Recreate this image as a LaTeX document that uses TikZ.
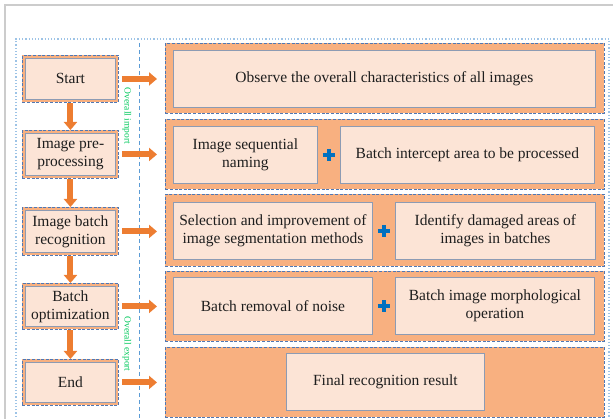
\documentclass[tikz,border=0pt]{standalone}
\usepackage{fontspec}
\setmainfont{Liberation Serif}
\usetikzlibrary{arrows.meta,calc}
\definecolor{band}{RGB}{248,176,128}
\definecolor{peach}{RGB}{252,228,214}
\definecolor{dblue}{RGB}{80,120,180}
\definecolor{iborder}{RGB}{140,155,180}
\definecolor{aorange}{RGB}{237,125,49}
\definecolor{lblue}{RGB}{157,195,230}
\definecolor{vblue}{RGB}{91,155,213}
\definecolor{pblue}{RGB}{0,112,192}
\definecolor{lgreen}{RGB}{0,200,90}
\definecolor{txt}{RGB}{30,30,30}
\tikzset{
  outerbox/.style={draw=dblue, dash pattern=on 3pt off 1.6pt, line width=0.9pt, fill=band, inner sep=0pt},
  innerbox/.style={draw=iborder, line width=0.8pt, fill=peach, inner sep=1pt, align=center, text=txt, font=\fontsize{15.5}{18}\selectfont},
  darrow/.style={draw=aorange, line width=6pt, -{Triangle[width=13pt,length=8pt]}},
  rarrow/.style={draw=aorange, line width=6pt, -{Triangle[width=13pt,length=8pt]}, shorten <=3pt, shorten >=8pt},
  plussign/.style={draw=pblue, line width=4pt},
  sidelabel/.style={text=lgreen, font=\fontsize{9.5}{11}\selectfont, rotate=-90, inner sep=1pt},
}
\newcommand\bx[7]{\node[#1, anchor=north west, minimum width={(#5-#3)*1pt}, minimum height={(#6-#4)*1pt}] (#2) at (#3,#4) {#7};}
\newcommand\plusat[1]{\draw[plussign] ([xshift=-6pt]#1) -- ([xshift=6pt]#1); \draw[plussign] ([yshift=-6pt]#1) -- ([yshift=6pt]#1);}
\begin{document}
\begin{tikzpicture}[x=1pt,y=-1pt]
\useasboundingbox (0,0) rectangle (613,419);
% page border
\draw[black!20, line width=1.5pt] (5,419) -- (5,5) -- (613,5);
% dotted frame
\draw[lblue, dotted, line width=1.2pt] (16,420) -- (16,39) -- (609,39) -- (609,420);
% vertical dashed line
\coordinate (vtop) at (139,43);
\coordinate (vbot) at (139,420);
\draw[vblue, dash pattern=on 4pt off 3pt, line width=0.9pt] (vtop) -- (vbot);
% left boxes
\bx{outerbox}{startO}{22}{55}{118}{102}{}
\bx{outerbox}{preO}{22}{130}{118}{178}{}
\bx{outerbox}{recO}{22}{207}{118}{255}{}
\bx{outerbox}{optO}{22}{283}{118}{329}{}
\bx{outerbox}{endO}{22}{359}{118}{405}{}
\bx{innerbox}{startI}{25}{58}{115}{99}{Start}
\bx{innerbox}{preI}{25}{133}{115}{175}{Image pre-\\processing}
\bx{innerbox}{recI}{25}{210}{115}{252}{Image batch\\recognition}
\bx{innerbox}{optI}{25}{286}{115}{326}{Batch\\optimization}
\bx{innerbox}{endI}{25}{362}{115}{402}{End}
% down arrows
\draw[darrow] (startO.south) -- (preO.north);
\draw[darrow] (preO.south) -- (recO.north);
\draw[darrow] (recO.south) -- (optO.north);
\draw[darrow] (optO.south) -- (endO.north);
% right panels
\bx{outerbox}{r1}{165}{43}{604}{113}{}
\bx{outerbox}{r2}{165}{119}{604}{189}{}
\bx{outerbox}{r3}{165}{194}{604}{266}{}
\bx{outerbox}{r4}{165}{271}{604}{341}{}
\bx{outerbox}{r5}{165}{347}{604}{417}{}
\bx{innerbox}{r1a}{173}{50}{595}{107}{Observe the overall characteristics of all images}
\bx{innerbox}{r2a}{173}{126}{317}{183}{Image sequential\\naming}
\bx{innerbox}{r2b}{340}{126}{594}{183}{Batch intercept area to be processed}
\bx{innerbox}{r3a}{173}{202}{372}{259}{Selection and improvement of\\image segmentation methods}
\bx{innerbox}{r3b}{395}{202}{595}{259}{Identify damaged areas of\\images in batches}
\bx{innerbox}{r4a}{173}{277}{372}{334}{Batch removal of noise}
\bx{innerbox}{r4b}{395}{277}{594}{334}{Batch image morphological\\operation}
\bx{innerbox}{r5a}{286}{353}{484}{410}{Final recognition result}
% plus signs
\coordinate (p2) at ($(r2a.east)!0.5!(r2b.west)$);
\coordinate (p3) at ($(r3a.east)!0.5!(r3b.west)$);
\coordinate (p4) at ($(r4a.east)!0.5!(r4b.west)$);
\plusat{p2}
\plusat{p3}
\plusat{p4}
% right arrows
\draw[rarrow] (startO.east) -- (startO.east -| r1.west);
\draw[rarrow] (preO.east) -- (preO.east -| r2.west);
\draw[rarrow] (recO.east) -- (recO.east -| r3.west);
\draw[rarrow] (optO.east) -- (optO.east -| r4.west);
\draw[rarrow] (endO.east) -- (endO.east -| r5.west);
% side labels
\node[sidelabel] (imp) at (127,116) {Overall import};
\node[sidelabel] (exp) at (127,344) {Overall export};
\end{tikzpicture}
\end{document}
